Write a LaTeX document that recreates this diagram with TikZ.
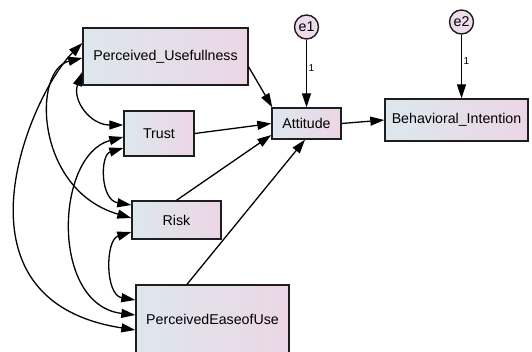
\documentclass[tikz,border=0pt]{standalone}
\usepackage{fontspec}
\setmainfont{Liberation Sans}
\usetikzlibrary{arrows.meta}
\definecolor{boxl}{RGB}{221,231,237}
\definecolor{boxr}{RGB}{236,214,230}
\definecolor{circf}{RGB}{238,220,234}
\definecolor{edgec}{RGB}{30,30,30}
\begin{document}
\begin{tikzpicture}[x=1pt,y=-1pt,
  var/.style={draw=edgec, line width=1.4pt, left color=boxl, right color=boxr, inner sep=0pt, font=\fontsize{14.2}{16}\selectfont},
  err/.style={circle, draw=edgec, line width=1.4pt, fill=circf, minimum size=24pt, inner sep=0pt, font=\fontsize{14.2}{16}\selectfont},
  arr/.style={line width=1.3pt, -{Triangle[length=14pt,width=9pt]}},
  cov/.style={line width=1.3pt, {Triangle[length=14pt,width=9pt]}-{Triangle[length=14pt,width=9pt]}},
  lbl/.style={font=\fontsize{10}{12}\selectfont, inner sep=1.5pt}]
\clip (0,0) rectangle (532,351);
\fill[white] (0,0) rectangle (532,351);
% variables
\node[var, minimum width=165pt, minimum height=57pt] (pu) at (165.5,56.5) {Perceived\_Usefullness};
\node[var, minimum width=70pt, minimum height=45pt] (trust) at (159,133.5) {Trust};
\node[var, minimum width=89pt, minimum height=38pt] (risk) at (176.5,220) {Risk};
\node[var, minimum width=153pt, minimum height=68pt] (peu) at (212.5,319) {PerceivedEaseofUse};
\node[var, minimum width=69pt, minimum height=31pt] (att) at (306.5,123.5) {Attitude};
\node[var, minimum width=143pt, minimum height=42pt] (bi) at (456.5,120) {Behavioral\_Intention};
\node[err] (e1) at (306.5,27) {e1};
\node[err] (e2) at (461.5,22) {e2};
% regression paths
\draw[arr] ([yshift=-10.5pt]pu.east) -- ([xshift=1pt]att.north west);
\draw[arr] (trust.east) -- (att.west);
\draw[arr] (risk.north) -- ([yshift=-11.5pt]att.west);
\draw[arr] ([xshift=-25.5pt]peu.north) -- ([xshift=-1.5pt]att.south);
\draw[arr] (e1.south) -- (att.north) node[lbl, pos=0.42, right] (l1) {1};
\draw[arr] (e2.south) -- (e2.south |- bi.north) node[lbl, pos=0.42, right] (l2) {1};
\draw[arr] (att.east) -- (bi.west);
% covariances
\draw[cov] ([yshift=13.5pt]pu.west) .. controls (30,95) and (-58,300) .. ([yshift=-11pt]peu.west);
\draw[cov] ([yshift=-1.5pt]pu.west) .. controls (32,70) and (35,190) .. ([yshift=2pt]risk.west);
\draw[cov] ([yshift=-15.5pt]pu.west) .. controls (72,100) and (90,125) .. ([yshift=8.5pt]trust.west);
\draw[cov] ([yshift=-3.5pt]trust.west) .. controls (55,155) and (50,305) .. ([yshift=4pt]peu.west);
\draw[cov] ([yshift=-14.5pt]trust.west) .. controls (100,155) and (100,200) .. ([yshift=15pt]risk.west);
\draw[cov] ([yshift=-12pt]risk.west) .. controls (105,240) and (105,295) .. ([yshift=19pt]peu.west);
\end{tikzpicture}
\end{document}
